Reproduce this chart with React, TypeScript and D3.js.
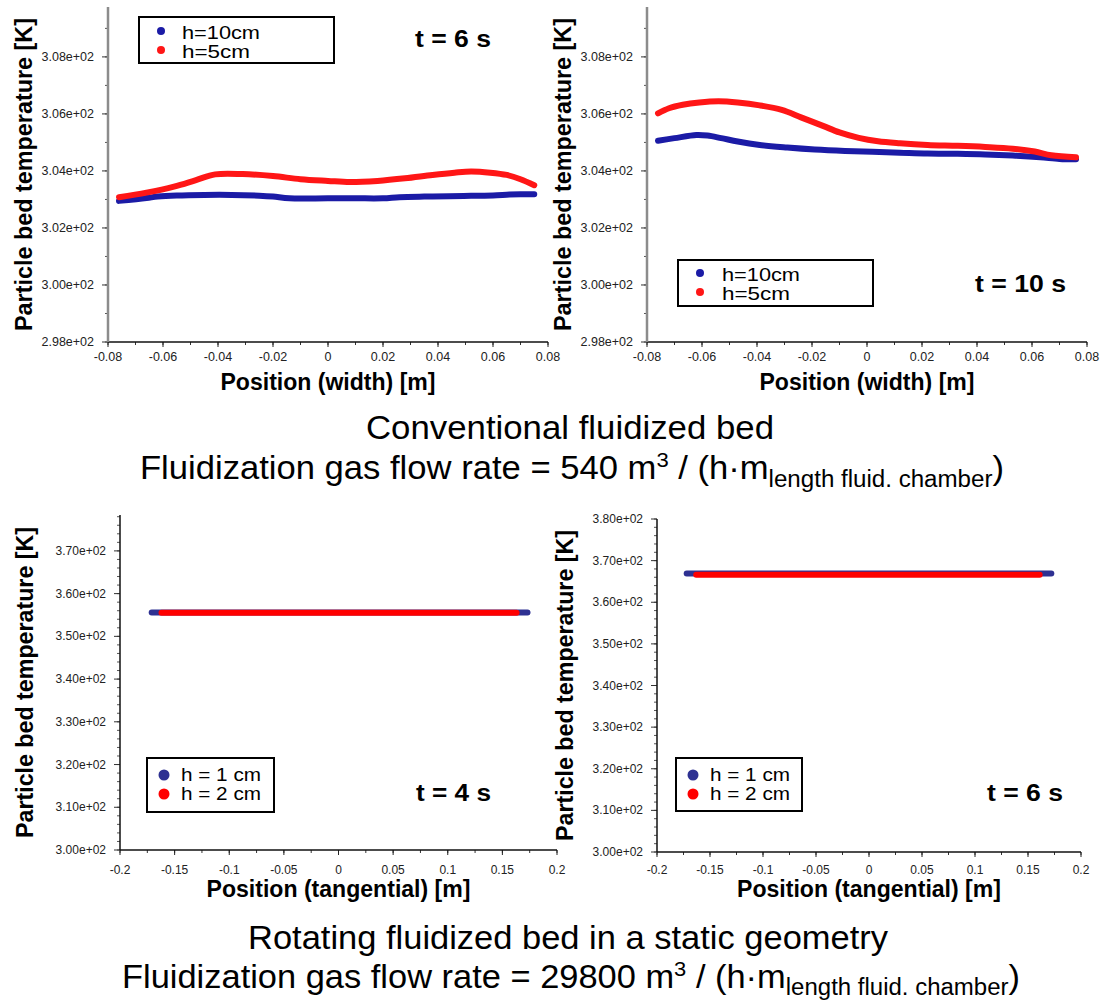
import React from 'react';
import * as d3 from 'd3';

// ---------------- DATA ----------------
// Conventional fluidized bed, t = 6 s
const tlBlueX = [-0.076, -0.066, -0.062, -0.055, -0.045, -0.035, -0.025, -0.02, -0.014, 0.0, 0.01, 0.02, 0.026, 0.035, 0.044, 0.052, 0.06, 0.066, 0.07, 0.075];
const tlBlueY = [302.95, 303.05, 303.1, 303.14, 303.16, 303.16, 303.13, 303.1, 303.04, 303.04, 303.04, 303.04, 303.08, 303.1, 303.11, 303.13, 303.14, 303.17, 303.18, 303.18];
const tlRedX = [-0.076, -0.066, -0.056, -0.048, -0.041, -0.031, -0.02, -0.01, 0.0, 0.008, 0.018, 0.028, 0.038, 0.046, 0.052, 0.059, 0.065, 0.07, 0.075];
const tlRedY = [303.08, 303.24, 303.45, 303.68, 303.88, 303.89, 303.82, 303.71, 303.65, 303.61, 303.65, 303.74, 303.86, 303.94, 303.98, 303.94, 303.86, 303.71, 303.5];

// Conventional fluidized bed, t = 10 s
const trBlueX = [-0.076, -0.07, -0.062, -0.058, -0.053, -0.047, -0.039, -0.029, -0.019, -0.008, 0.002, 0.012, 0.022, 0.033, 0.043, 0.053, 0.063, 0.07, 0.076];
const trBlueY = [305.06, 305.15, 305.26, 305.24, 305.15, 305.03, 304.91, 304.82, 304.75, 304.7, 304.67, 304.64, 304.61, 304.6, 304.58, 304.54, 304.48, 304.42, 304.41];
const trRedX = [-0.076, -0.072, -0.067, -0.061, -0.054, -0.047, -0.039, -0.031, -0.024, -0.016, -0.01, -0.003, 0.004, 0.012, 0.022, 0.033, 0.043, 0.053, 0.061, 0.067, 0.076];
const trRedY = [306.02, 306.2, 306.32, 306.4, 306.44, 306.4, 306.3, 306.14, 305.88, 305.58, 305.35, 305.16, 305.04, 304.97, 304.91, 304.88, 304.84, 304.78, 304.68, 304.55, 304.48];

// Rotating fluidized bed, t = 4 s
const blBlueX = [-0.171, -0.1, 0.0, 0.1, 0.173];
const blBlueY = [355.6, 355.6, 355.6, 355.6, 355.6];
const blRedX = [-0.162, -0.1, 0.0, 0.1, 0.163];
const blRedY = [355.5, 355.5, 355.5, 355.5, 355.5];

// Rotating fluidized bed, t = 6 s
const brBlueX = [-0.172, -0.1, 0.0, 0.1, 0.172];
const brBlueY = [366.9, 366.9, 366.9, 366.9, 366.9];
const brRedX = [-0.163, -0.1, 0.0, 0.1, 0.161];
const brRedY = [366.6, 366.6, 366.6, 366.6, 366.6];

// Ticks
const topXTicks = [-0.08, -0.06, -0.04, -0.02, 0, 0.02, 0.04, 0.06, 0.08];
const topXTickLabels = ['-0.08', '-0.06', '-0.04', '-0.02', '0', '0.02', '0.04', '0.06', '0.08'];
const topYTicks = [298, 300, 302, 304, 306, 308];
const topYTickLabels = ['2.98e+02', '3.00e+02', '3.02e+02', '3.04e+02', '3.06e+02', '3.08e+02'];
const botXTicks = [-0.2, -0.15, -0.1, -0.05, 0, 0.05, 0.1, 0.15, 0.2];
const botXTickLabels = ['-0.2', '-0.15', '-0.1', '-0.05', '0', '0.05', '0.1', '0.15', '0.2'];
const blYTicks = [300, 310, 320, 330, 340, 350, 360, 370];
const blYTickLabels = ['3.00e+02', '3.10e+02', '3.20e+02', '3.30e+02', '3.40e+02', '3.50e+02', '3.60e+02', '3.70e+02'];
const brYTicks = [300, 310, 320, 330, 340, 350, 360, 370, 380];
const brYTickLabels = ['3.00e+02', '3.10e+02', '3.20e+02', '3.30e+02', '3.40e+02', '3.50e+02', '3.60e+02', '3.70e+02', '3.80e+02'];

const topLegend = ['h=10cm', 'h=5cm'];
const botLegend = ['h = 1 cm', 'h = 2 cm'];
const timeLabels = ['t = 6 s', 't = 10 s', 't = 4 s', 't = 6 s'];

// ---------------- DRAWING ----------------
const FONT = "'Liberation Sans', Arial, Helvetica, sans-serif";

type Series = { x: number[]; y: number[]; color: string };

type PanelProps = {
  left: number; right: number; top: number; bottom: number;
  xDomain: [number, number]; yDomain: [number, number];
  xTicks: number[]; xLabels: string[]; xMinorStep: number;
  yTicks: number[]; yLabels: string[]; yMinorStep: number;
  series: Series[];
  yAxisColor: string; yAxisWidth: number;
  xLabelY: number; tickFont: number;
  yTitleX: number; yTitleLen: number;
  xTitle: string; xTitleY: number; xTitleLen: number;
  legend: { x0: number; y0: number; x1: number; y1: number; dotX: number; dotY: number[]; textX: number; textY: number[]; labels: string[]; colors: string[]; r: number; fontSize: number; textLen: number[] };
  tLabel: { text: string; x: number; y: number; len: number };
};

function Panel(p: PanelProps) {
  const x = d3.scaleLinear().domain(p.xDomain).range([p.left, p.right]);
  const y = d3.scaleLinear().domain(p.yDomain).range([p.bottom, p.top]);
  const line = d3
    .line<[number, number]>()
    .x((d) => x(d[0]))
    .y((d) => y(d[1]))
    .curve(d3.curveCatmullRom.alpha(0.5));

  const xMinor = d3.range(p.xDomain[0], p.xDomain[1] + 1e-9, p.xMinorStep);
  const yMinor = d3.range(p.yDomain[0], p.yDomain[1] + 1e-9, p.yMinorStep);
  const yMid = (p.top + p.bottom) / 2;
  const xMid = (p.left + p.right) / 2;

  return (
    <g>
      {xMinor.map((v, i) => (
        <line key={'xm' + i} x1={x(v)} x2={x(v)} y1={p.bottom} y2={p.bottom + 3} stroke="#333" strokeWidth={1} />
      ))}
      {yMinor.map((v, i) => (
        <line key={'ym' + i} x1={p.left} x2={p.left - 3} y1={y(v)} y2={y(v)} stroke="#555" strokeWidth={1} />
      ))}
      {p.xTicks.map((v, i) => (
        <line key={'xt' + i} x1={x(v)} x2={x(v)} y1={p.bottom} y2={p.bottom + 5} stroke="#222" strokeWidth={1} />
      ))}
      {p.yTicks.map((v, i) => (
        <line key={'yt' + i} x1={p.left} x2={p.left - 6} y1={y(v)} y2={y(v)} stroke="#333" strokeWidth={1} />
      ))}
      <line x1={p.left} x2={p.right} y1={p.bottom} y2={p.bottom} stroke="#111" strokeWidth={1.5} />
      <line x1={p.left} x2={p.left} y1={p.top} y2={p.bottom} stroke={p.yAxisColor} strokeWidth={p.yAxisWidth} />
      {p.xTicks.map((v, i) => (
        <text key={'xl' + i} x={x(v)} y={p.xLabelY} textAnchor="middle" dominantBaseline="central" fontFamily={FONT} fontSize={p.tickFont} fill="#222">
          {p.xLabels[i]}
        </text>
      ))}
      {p.yTicks.map((v, i) => (
        <text key={'yl' + i} x={p.left - 14} y={y(v)} textAnchor="end" dominantBaseline="central" fontFamily={FONT} fontSize={p.tickFont} fill="#222">
          {p.yLabels[i]}
        </text>
      ))}
      {p.series.map((s, i) => (
        <path
          key={'s' + i}
          d={line(s.x.map((xv, j) => [xv, s.y[j]] as [number, number])) || ''}
          fill="none"
          stroke={s.color}
          strokeWidth={6}
          strokeLinecap="round"
          strokeLinejoin="round"
        />
      ))}
      <text
        transform={`translate(${p.yTitleX},${yMid}) rotate(-90)`}
        textAnchor="middle"
        fontFamily={FONT}
        fontWeight="bold"
        fontSize={24}
        textLength={p.yTitleLen}
        lengthAdjust="spacingAndGlyphs"
        fill="#000"
      >
        Particle bed temperature [K]
      </text>
      <text
        x={xMid}
        y={p.xTitleY}
        textAnchor="middle"
        fontFamily={FONT}
        fontWeight="bold"
        fontSize={23}
        textLength={p.xTitleLen}
        lengthAdjust="spacingAndGlyphs"
        fill="#000"
      >
        {p.xTitle}
      </text>
      <rect
        x={p.legend.x0}
        y={p.legend.y0}
        width={p.legend.x1 - p.legend.x0}
        height={p.legend.y1 - p.legend.y0}
        fill="#fff"
        stroke="#000"
        strokeWidth={2}
      />
      {p.legend.labels.map((l, i) => (
        <g key={'lg' + i}>
          <circle cx={p.legend.dotX} cy={p.legend.dotY[i]} r={p.legend.r} fill={p.legend.colors[i]} />
          <text
            x={p.legend.textX}
            y={p.legend.textY[i]}
            fontFamily={FONT}
            fontSize={p.legend.fontSize}
            textLength={p.legend.textLen[i]}
            lengthAdjust="spacingAndGlyphs"
            fill="#000"
          >
            {l}
          </text>
        </g>
      ))}
      <text
        x={p.tLabel.x}
        y={p.tLabel.y}
        fontFamily={FONT}
        fontWeight="bold"
        fontSize={23}
        textLength={p.tLabel.len}
        lengthAdjust="spacingAndGlyphs"
        fill="#000"
      >
        {p.tLabel.text}
      </text>
    </g>
  );
}

const BLUE_T = '#1b1ba6';
const RED_T = '#ff1616';
const BLUE_B = '#2e3192';
const RED_B = '#ff0000';

export default function App() {
  const topCommon = {
    top: 7, bottom: 342,
    xDomain: [-0.08, 0.08] as [number, number],
    yDomain: [298, 309.75] as [number, number],
    xTicks: topXTicks, xLabels: topXTickLabels, xMinorStep: 0.01,
    yTicks: topYTicks, yLabels: topYTickLabels, yMinorStep: 1,
    yAxisColor: '#8c8c8c', yAxisWidth: 2.5,
    xLabelY: 357, tickFont: 12.5,
    yTitleLen: 313,
    xTitle: 'Position (width) [m]', xTitleY: 390, xTitleLen: 215,
  };
  const botCommon = {
    xDomain: [-0.2, 0.2] as [number, number],
    xTicks: botXTicks, xLabels: botXTickLabels, xMinorStep: 0.025,
    yMinorStep: 2,
    yAxisColor: '#111', yAxisWidth: 1.5,
    xLabelY: 870, tickFont: 12,
    yTitleLen: 311,
    xTitle: 'Position (tangential) [m]', xTitleY: 897, xTitleLen: 264,
  };

  return (
    <svg
      width={1102}
      height={1002}
      viewBox="0 0 1102 1002"
      style={{ position: 'absolute', left: 0, top: 0, display: 'block', background: '#fff' }}
    >
      <rect x={0} y={0} width={1102} height={1002} fill="#fff" />
      <Panel
        {...topCommon}
        left={108} right={548}
        series={[
          { x: tlBlueX, y: tlBlueY, color: BLUE_T },
          { x: tlRedX, y: tlRedY, color: RED_T },
        ]}
        yTitleX={32}
        legend={{ x0: 139, y0: 17, x1: 334, y1: 63, dotX: 161, dotY: [31, 50], textX: 182, textY: [39, 58], labels: topLegend, colors: [BLUE_T, RED_T], r: 4, fontSize: 18, textLen: [78, 68] }}
        tLabel={{ text: timeLabels[0], x: 415, y: 47, len: 76 }}
      />
      <Panel
        {...topCommon}
        left={647} right={1087}
        series={[
          { x: trBlueX, y: trBlueY, color: BLUE_T },
          { x: trRedX, y: trRedY, color: RED_T },
        ]}
        yTitleX={571}
        legend={{ x0: 678, y0: 260, x1: 873, y1: 306, dotX: 700, dotY: [273, 292], textX: 722, textY: [281, 300], labels: topLegend, colors: [BLUE_T, RED_T], r: 4, fontSize: 18, textLen: [78, 68] }}
        tLabel={{ text: timeLabels[1], x: 975, y: 292, len: 91 }}
      />
      <Panel
        {...botCommon}
        left={120} right={557} top={515} bottom={850}
        yDomain={[300, 378.4]}
        yTicks={blYTicks} yLabels={blYTickLabels}
        series={[
          { x: blBlueX, y: blBlueY, color: BLUE_B },
          { x: blRedX, y: blRedY, color: RED_B },
        ]}
        yTitleX={33}
        legend={{ x0: 147, y0: 758, x1: 274, y1: 812, dotX: 164, dotY: [775, 794], textX: 181, textY: [781, 800], labels: botLegend, colors: [BLUE_B, RED_B], r: 5.5, fontSize: 18, textLen: [80, 80] }}
        tLabel={{ text: timeLabels[2], x: 416, y: 801, len: 75 }}
      />
      <Panel
        {...botCommon}
        left={657} right={1081} top={519} bottom={852}
        yDomain={[300, 380]}
        yTicks={brYTicks} yLabels={brYTickLabels}
        series={[
          { x: brBlueX, y: brBlueY, color: BLUE_B },
          { x: brRedX, y: brRedY, color: RED_B },
        ]}
        yTitleX={573}
        legend={{ x0: 676, y0: 758, x1: 802, y1: 811, dotX: 693, dotY: [775, 794], textX: 710, textY: [781, 800], labels: botLegend, colors: [BLUE_B, RED_B], r: 5.5, fontSize: 18, textLen: [80, 80] }}
        tLabel={{ text: timeLabels[3], x: 987, y: 801, len: 76 }}
      />

      <text x={570} y={439} textAnchor="middle" fontFamily={FONT} fontSize={33} fill="#000" textLength={408} lengthAdjust="spacingAndGlyphs">
        Conventional fluidized bed
      </text>
      <text x={572} y={479} textAnchor="middle" fontFamily={FONT} fontSize={33} fill="#000" textLength={864} lengthAdjust="spacingAndGlyphs">
        Fluidization gas flow rate = 540 m
        <tspan fontSize={21} dy={-12}>3</tspan>
        <tspan dy={12}> / (h·m</tspan>
        <tspan fontSize={23} dy={8}>length fluid. chamber</tspan>
        <tspan dy={-8}>)</tspan>
      </text>
      <text x={568} y={949} textAnchor="middle" fontFamily={FONT} fontSize={33} fill="#000" textLength={640} lengthAdjust="spacingAndGlyphs">
        Rotating fluidized bed in a static geometry
      </text>
      <text x={571} y={988} textAnchor="middle" fontFamily={FONT} fontSize={33} fill="#000" textLength={898} lengthAdjust="spacingAndGlyphs">
        Fluidization gas flow rate = 29800 m
        <tspan fontSize={21} dy={-12}>3</tspan>
        <tspan dy={12}> / (h·m</tspan>
        <tspan fontSize={23} dy={7}>length fluid. chamber</tspan>
        <tspan dy={-7}>)</tspan>
      </text>
    </svg>
  );
}
